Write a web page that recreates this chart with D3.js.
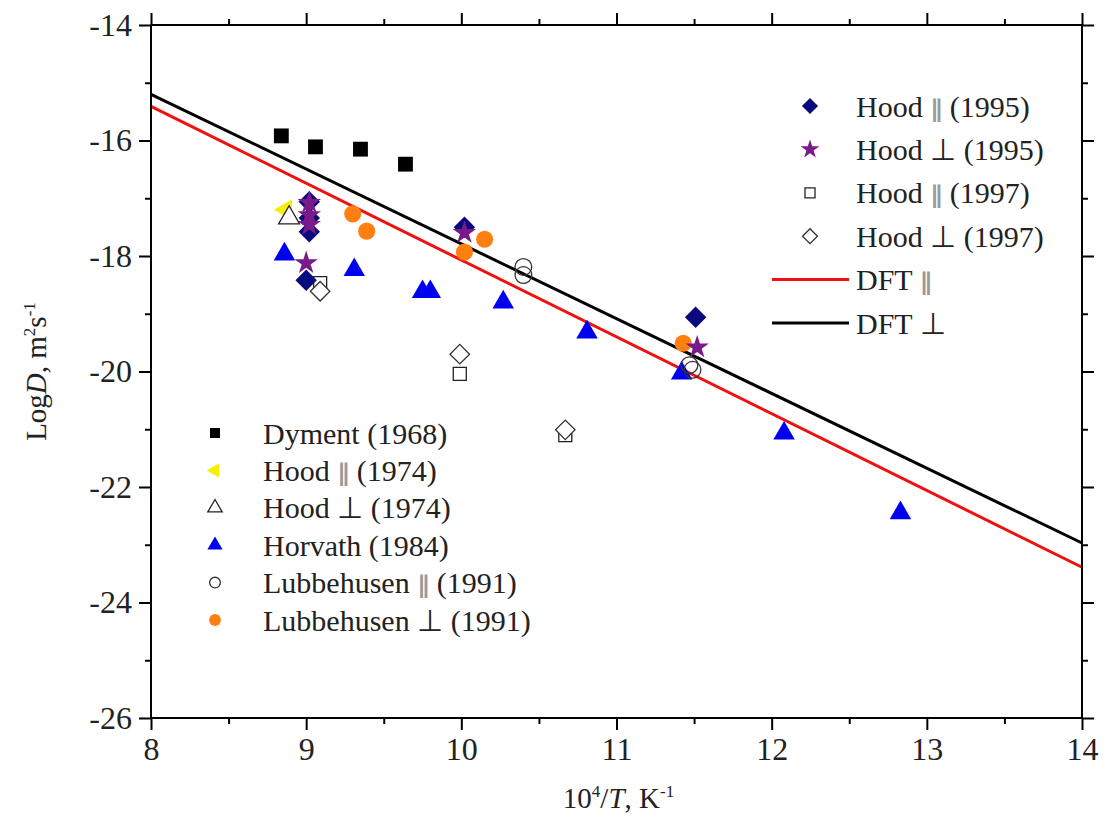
<!DOCTYPE html>
<html>
<head>
<meta charset="utf-8">
<script src="https://cdn.jsdelivr.net/npm/d3@7"></script>
<style>
  body { margin: 0; background: #fff; }
  svg text { font-family: "Liberation Serif", "Times New Roman", serif; fill: #222; }
</style>
</head>
<body>
<div id="chart"></div>
<script>
// data (x = 10^4/T, y = LogD)
const dymentX = [8.84, 9.06, 9.35, 9.64];
const dymentY = [-15.92, -16.11, -16.15, -16.41];
const hoodPar74X = [8.87];
const hoodPar74Y = [-17.2];
const hoodPerp74X = [8.89];
const hoodPerp74Y = [-17.34];
const horvathX = [8.86, 9.31, 9.75, 9.8, 10.27, 10.81, 11.42, 12.08, 12.83];
const horvathY = [-17.97, -18.24, -18.62, -18.62, -18.8, -19.32, -20.03, -21.07, -22.45];
const lubbParX = [10.4, 10.4, 11.47, 11.49];
const lubbParY = [-18.19, -18.33, -19.89, -19.97];
const lubbPerpX = [9.3, 9.39, 10.15, 10.02, 11.43];
const lubbPerpY = [-17.27, -17.57, -17.71, -17.93, -19.51];
const hoodPar95X = [9.02, 9.02, 9.02, 9.0, 10.02, 11.51];
const hoodPar95Y = [-17.06, -17.34, -17.58, -18.42, -17.5, -19.06];
const hoodPerp95X = [9.02, 9.02, 9.02, 9.0, 10.02, 11.52];
const hoodPerp95Y = [-17.08, -17.29, -17.46, -18.12, -17.6, -19.58];
const hoodPar97X = [9.09, 9.99, 10.67];
const hoodPar97Y = [-18.47, -20.04, -21.1];
const hoodPerp97X = [9.09, 9.99, 10.67];
const hoodPerp97Y = [-18.61, -19.7, -21.01];
const dftX = [8, 14];
const dftParY = [-15.41, -23.39];
const dftPerpY = [-15.2, -22.97];
const xTicks = [8, 9, 10, 11, 12, 13, 14];
const yTicks = [-26, -24, -22, -20, -18, -16, -14];

const W = 1105, H = 828;
const L = 151, R = 1082, T = 25, B = 718;
const svg = d3.select("#chart").append("svg").attr("width", W).attr("height", H);

const x = d3.scaleLinear().domain([8, 14]).range([L, R]);
const y = d3.scaleLinear().domain([-26, -14]).range([B, T]);

const zip = (xs, ys) => xs.map((v, i) => [v, ys[i]]);

// DFT lines
const line = d3.line().x(d => x(d[0])).y(d => y(d[1]));
svg.append("path").datum(zip(dftX, dftParY)).attr("d", line)
  .attr("stroke", "#f01010").attr("stroke-width", 3).attr("fill", "none");
svg.append("path").datum(zip(dftX, dftPerpY)).attr("d", line)
  .attr("stroke", "#000").attr("stroke-width", 3).attr("fill", "none");

// marker styles (diamonds = squares turned 45deg)
function sym(type, size) { return d3.symbol().type(type).size(size)(); }
const series = [
  {name: "Dyment", xs: dymentX, ys: dymentY, type: d3.symbolSquare, size: 220, fill: "#000", stroke: "none"},
  {name: "HoodPar74", xs: hoodPar74X, ys: hoodPar74Y, type: d3.symbolTriangle, size: 190, fill: "#f5f000", stroke: "none", rot: -90},
  {name: "Horvath", xs: horvathX, ys: horvathY, type: d3.symbolTriangle, size: 200, fill: "#0000f0", stroke: "none"},
  {name: "HoodPerp74", xs: hoodPerp74X, ys: hoodPerp74Y, type: d3.symbolTriangle, size: 190, fill: "#fff", stroke: "#222"},
  {name: "LubbPerp", xs: lubbPerpX, ys: lubbPerpY, type: d3.symbolCircle, size: 230, fill: "#ff8010", stroke: "none"},
  {name: "HoodPar95", xs: hoodPar95X, ys: hoodPar95Y, type: d3.symbolSquare, size: 230, fill: "#0a0a80", stroke: "none", rot: 45},
  {name: "HoodPerp95", xs: hoodPerp95X, ys: hoodPerp95Y, type: d3.symbolStar, size: 170, fill: "#7a1a8a", stroke: "none"},
  {name: "HoodPar97", xs: hoodPar97X, ys: hoodPar97Y, type: d3.symbolSquare, size: 170, fill: "none", stroke: "#222"},
  {name: "HoodPerp97", xs: hoodPerp97X, ys: hoodPerp97Y, type: d3.symbolSquare, size: 190, fill: "#fff", stroke: "#333", rot: 45},
  {name: "LubbPar", xs: lubbParX, ys: lubbParY, type: d3.symbolCircle, size: 220, fill: "none", stroke: "#333"}
];

series.forEach(s => {
  svg.append("g").selectAll("path").data(zip(s.xs, s.ys)).join("path")
    .attr("d", sym(s.type, s.size))
    .attr("transform", d => `translate(${x(d[0])},${y(d[1])})` + (s.rot ? ` rotate(${s.rot})` : ""))
    .attr("fill", s.fill).attr("stroke", s.stroke).attr("stroke-width", 1.3);
});

// axes frame
svg.append("rect").attr("x", L).attr("y", T).attr("width", R - L).attr("height", B - T)
  .attr("fill", "none").attr("stroke", "#000").attr("stroke-width", 2);

const xMinor = d3.range(8.5, 14, 1);
const yMinor = d3.range(-25, -14, 2);
function ticks(axis, pos, major, fmt) {
  const g = svg.append("g").attr("transform", pos)
    .call(axis.tickValues(major).tickSize(12).tickSizeOuter(0).tickPadding(7).tickFormat(fmt));
  g.select(".domain").remove();
  g.selectAll("line").attr("stroke", "#000").attr("stroke-width", 2);
  g.attr("font-family", null).attr("font-size", null);
  return g;
}
const fmt = d3.format("d");
const none = () => "";
ticks(d3.axisBottom(x), `translate(0,${B})`, xTicks, fmt);
ticks(d3.axisBottom(x), `translate(0,${B})`, xMinor, none).selectAll("line").attr("y2", 6);
ticks(d3.axisTop(x), `translate(0,${T})`, xTicks, none);
ticks(d3.axisTop(x), `translate(0,${T})`, xMinor, none).selectAll("line").attr("y2", -6);
ticks(d3.axisLeft(y), `translate(${L},0)`, yTicks, d => String(d).replace("\u2212", "-"));
ticks(d3.axisLeft(y), `translate(${L},0)`, yMinor, none).selectAll("line").attr("x2", -6);
ticks(d3.axisRight(y), `translate(${R},0)`, yTicks, none);
ticks(d3.axisRight(y), `translate(${R},0)`, yMinor, none).selectAll("line").attr("x2", 6);
svg.selectAll(".tick text")
  .style("font-family", "'Liberation Serif', serif").style("font-size", "32px").style("fill", "#222");

// axis titles
const xt = svg.append("text").attr("x", (L + R) / 2 + 2).attr("y", 808).attr("text-anchor", "middle").style("font-size", "29px");
xt.append("tspan").text("10");
xt.append("tspan").style("font-size", "17px").attr("dy", -11).text("4");
xt.append("tspan").attr("dy", 11).text("/");
xt.append("tspan").style("font-style", "italic").text("T");
xt.append("tspan").text(", K");
xt.append("tspan").style("font-size", "17px").attr("dy", -11).text("-1");

const yt = svg.append("text").attr("transform", `translate(46,${(T + B) / 2}) rotate(-90)`)
  .attr("text-anchor", "middle").style("font-size", "29px");
yt.append("tspan").text("Log");
yt.append("tspan").style("font-style", "italic").text("D");
yt.append("tspan").text(", m");
yt.append("tspan").style("font-size", "17px").attr("dy", -11).text("2");
yt.append("tspan").attr("dy", 11).text("s");
yt.append("tspan").style("font-size", "17px").attr("dy", -11).text("-1");

// legends
function legendLabel(g, parts) {
  const t = g.append("text").style("font-size", "30px").attr("dy", "0.35em");
  parts.forEach(p => {
    const sp = t.append("tspan").text(p);
    if (p === "\u2225") sp.style("fill", "#999").style("font-family", "'DejaVu Sans'")
      .style("font-size", "24px").style("font-weight", "bold");
  });
  return t;
}
const par = "\u2225", perp = "\u22A5";
const leftLegend = [
  {s: series[0], lab: ["Dyment (1968)"], size: 100},
  {s: series[1], lab: ["Hood ", par, " (1974)"], size: 90},
  {s: series[3], lab: ["Hood ", perp, " (1974)"], size: 90},
  {s: series[2], lab: ["Horvath (1984)"], size: 100},
  {s: series[9], lab: ["Lubbehusen ", par, " (1991)"], size: 90},
  {s: series[4], lab: ["Lubbehusen ", perp, " (1991)"], size: 110}
];
const legRowsL = d3.scalePoint().domain(d3.range(leftLegend.length)).range([433, 620]);
leftLegend.forEach((e, i) => {
  const g = svg.append("g").attr("transform", `translate(215,${legRowsL(i)})`);
  g.append("path").attr("d", sym(e.s.type, e.size))
    .attr("transform", e.s.rot ? `rotate(${e.s.rot})` : null)
    .attr("fill", e.s.fill).attr("stroke", e.s.stroke).attr("stroke-width", 1.3);
  legendLabel(g, e.lab).attr("x", 48);
});

const rightLegend = [
  {s: series[5], lab: ["Hood ", par, " (1995)"], size: 130},
  {s: series[6], lab: ["Hood ", perp, " (1995)"], size: 110},
  {s: series[7], lab: ["Hood ", par, " (1997)"], size: 100},
  {s: series[8], lab: ["Hood ", perp, " (1997)"], size: 110},
  {line: "#f01010", lab: ["DFT ", par]},
  {line: "#000", lab: ["DFT ", perp]}
];
const legRowsR = d3.scalePoint().domain(d3.range(rightLegend.length)).range([106, 323]);
rightLegend.forEach((e, i) => {
  const g = svg.append("g").attr("transform", `translate(810,${legRowsR(i)})`);
  if (e.line) {
    g.append("line").attr("x1", -38).attr("x2", 39).attr("stroke", e.line).attr("stroke-width", 3);
  } else {
    g.append("path").attr("d", sym(e.s.type, e.size))
      .attr("transform", e.s.rot ? `rotate(${e.s.rot})` : null)
      .attr("fill", e.s.fill).attr("stroke", e.s.stroke).attr("stroke-width", 1.3);
  }
  legendLabel(g, e.lab).attr("x", 46);
});
</script>
</body>
</html>
